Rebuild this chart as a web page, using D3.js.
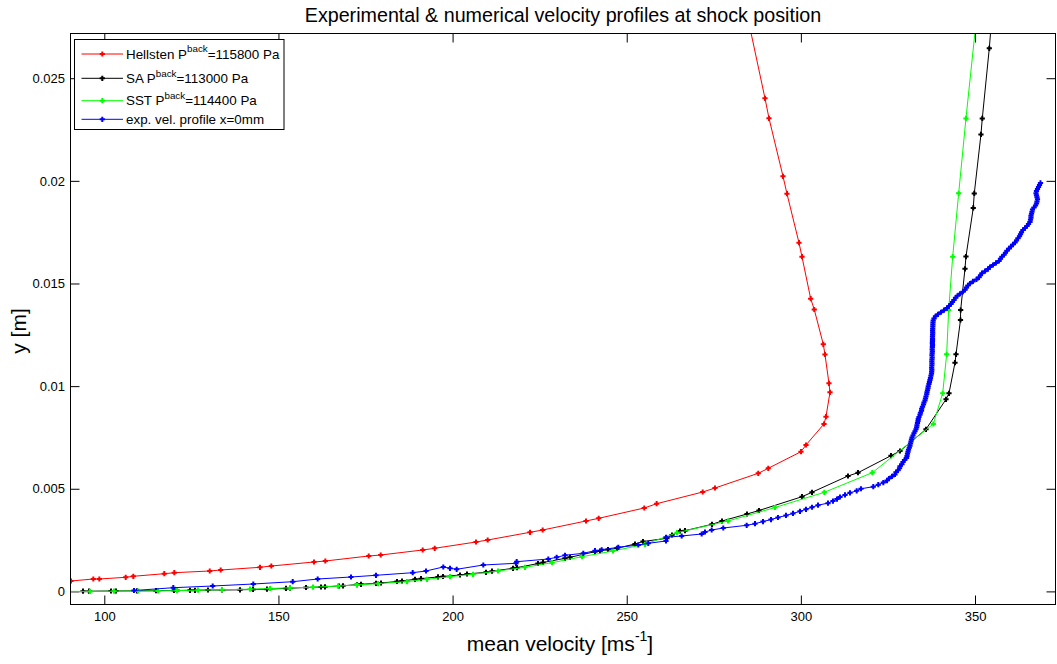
<!DOCTYPE html>
<html>
<head>
<meta charset="utf-8">
<script src="https://cdn.jsdelivr.net/npm/d3@7"></script>
<style>
  body { margin: 0; background: #ffffff; }
  svg { display: block; font-family: "Liberation Sans", Arial, Helvetica, sans-serif; }
</style>
</head>
<body>
<svg id="chart" width="1057" height="664"></svg>
<script>
// ---- Hellsten k-omega model, P_back = 115800 Pa ----
const hellstenVel = [90.44, 96.85, 98.57, 106.15, 108.33, 117.23, 120.10, 130.27, 133.42, 144.71,
  147.95, 160.21, 163.46, 175.92, 179.36, 191.42, 194.87, 206.72, 210.08, 222.23,
  225.87, 238.30, 241.95, 255.04, 258.60, 271.81, 275.34, 287.77, 290.64, 300.03,
  301.47, 306.64, 307.21, 308.36, 308.07, 306.92, 306.44, 303.85, 302.82, 300.32,
  299.46, 296.01, 294.87, 290.85, 289.70, 285.39, 284.24];
const hellstenY = [0.000507, 0.000604, 0.000604, 0.000687, 0.000736, 0.000862, 0.000911, 0.000994, 0.001042, 0.001174,
  0.001237, 0.001432, 0.001481, 0.001724, 0.001773, 0.002017, 0.0021, 0.002406, 0.002504, 0.002879,
  0.002991, 0.003429, 0.003561, 0.004063, 0.004272, 0.004842, 0.005037, 0.005753, 0.005997, 0.006805,
  0.007132, 0.008155, 0.00851, 0.009699, 0.010137, 0.01154, 0.012037, 0.013732, 0.014258, 0.016304,
  0.016986, 0.019373, 0.020221, 0.023046, 0.024021, 0.027445, 0.028419];

// ---- Spalart-Allmaras, P_back = 113000 Pa ----
const saVel = [93.89, 95.61, 101.93, 103.36, 109.39, 114.85, 120.02, 120.88, 124.61, 126.05,
  129.78, 133.80, 138.97, 142.70, 146.72, 152.17, 153.32, 157.91, 162.22, 163.37,
  167.39, 168.54, 172.56, 173.71, 178.01, 179.45, 184.04, 185.48, 189.21, 190.94,
  195.82, 197.25, 202.13, 204.14, 209.59, 211.32, 217.35, 218.49, 224.52, 225.96,
  232.27, 233.71, 240.89, 242.32, 244.62, 247.21, 252.37, 254.67, 261.56, 262.99,
  265.29, 266.73, 274.48, 277.35, 284.53, 287.97, 300.32, 303.19, 313.53, 316.40,
  325.87, 328.46, 335.92, 341.68, 342.53, 344.25, 344.54, 345.83, 345.88, 347.12,
  347.40, 349.50, 349.79, 351.71, 352.09, 354.10, 354.87];
const saY = [0.00001, 0.00001, 0.00002, 0.00002, 0.00003, 0.000034, 0.000044, 0.000044, 0.000054, 0.000054,
  0.000068, 0.000068, 0.000078, 0.000097, 0.000107, 0.000146, 0.000156, 0.00019, 0.000214, 0.000224,
  0.000263, 0.000273, 0.000331, 0.000346, 0.000395, 0.000409, 0.000482, 0.000507, 0.000589, 0.000619,
  0.000706, 0.000726, 0.000799, 0.000848, 0.00093, 0.000984, 0.001125, 0.001155, 0.001359, 0.001408,
  0.001612, 0.001661, 0.001934, 0.001968, 0.002041, 0.0021, 0.002309, 0.002431, 0.002587, 0.002747,
  0.002942, 0.002957, 0.003269, 0.003429, 0.00377, 0.003941, 0.004613, 0.004828, 0.005622, 0.005782,
  0.00661, 0.006839, 0.007897, 0.009358, 0.00965, 0.011141, 0.01155, 0.013221, 0.013708, 0.015715,
  0.016309, 0.018682, 0.019388, 0.022262, 0.023042, 0.026457, 0.028078];

// ---- k-omega SST, P_back = 114400 Pa ----
const sstVel = [89.01, 95.90, 102.79, 109.68, 115.42, 120.88, 126.91, 133.80, 141.84, 147.58,
  153.32, 159.92, 167.10, 172.56, 178.59, 186.91, 192.65, 199.26, 205.86, 213.04,
  220.79, 228.54, 237.15, 246.05, 255.24, 264.43, 279.07, 292.57, 306.73, 320.50,
  338.02, 340.72, 341.86, 342.44, 343.59, 345.31, 347.40, 350.28];
const sstY = [0, 0, 0.00001, 0.00002, 0.000024, 0.000039, 0.000058, 0.000083, 0.000107, 0.000141,
  0.000175, 0.000205, 0.000258, 0.000312, 0.00038, 0.000477, 0.000589, 0.000716, 0.000833, 0.000994,
  0.001174, 0.001398, 0.00169, 0.001968, 0.002294, 0.00286, 0.003429, 0.004087, 0.004828, 0.005782,
  0.008155, 0.00965, 0.01155, 0.013708, 0.016304, 0.019393, 0.023042, 0.02771];

// ---- measured velocity profile at x = 0 mm ----
const expVel = [108.53, 119.81, 131.13, 142.78, 154.10, 161.27, 170.83, 178.01, 188.55, 192.37,
  197.33, 199.26, 201.18, 208.82, 218.21, 218.41, 227.48, 229.89, 232.27, 237.53,
  240.89, 242.81, 247.58, 253.32, 256.19, 261.27, 261.27, 265.78, 271.52, 272.47,
  274.39, 277.72, 284.44,
  286.83, 289.13, 291.42, 293.43, 295.73, 297.74, 299.75, 301.47, 303.20, 304.92,
  307.79, 309.22, 310.37,
  311.23, 312.67, 314.10, 316.03, 317.26, 320.79, 322.23, 323.67, 324.73, 325.30,
  326.16, 327.02, 327.31, 327.89, 328.32, 328.46, 329.03, 329.32, 329.75, 330.33,
  330.47, 330.61, 330.76, 330.90, 331.13, 331.33, 331.48, 331.62, 331.76, 331.91,
  332.19, 332.48, 332.77, 333.05, 333.25, 333.34, 333.48, 333.63, 333.71, 333.91,
  334.20, 334.34, 334.63, 334.69, 334.92, 335.20, 335.35, 335.63, 335.78, 335.92,
  336.12, 336.21, 336.35, 336.50, 336.58, 336.78, 336.92, 337.07, 337.21, 337.35,
  337.50, 337.55, 337.60, 337.55, 337.60, 337.64, 337.60, 337.64, 337.70, 337.64,
  337.70, 337.75, 337.70, 337.75, 337.79, 337.75, 337.79, 337.80, 337.79, 337.82,
  337.85, 337.82, 337.85, 337.88, 337.90, 337.93, 338.00, 338.22, 338.65, 339.37,
  340.23, 341.09, 341.95, 342.53, 343.10, 343.53, 343.96, 344.39, 344.97, 345.68,
  346.54, 347.12, 347.55, 347.98, 348.55, 349.41, 350.42, 351.14, 351.57, 352.00,
  352.86, 353.72, 354.30, 355.16, 356.02, 356.88, 357.31, 357.74, 358.32, 358.75,
  359.18, 359.75, 360.33, 360.90, 361.48, 361.91, 362.34, 362.77, 363.06, 363.35,
  363.78, 364.35, 364.93, 365.36, 365.79, 365.93, 366.07, 366.07, 366.22, 366.36,
  366.51, 366.94, 367.37, 367.65, 367.80, 367.94, 367.80, 367.65, 367.51, 367.65,
  367.94, 368.23, 368.52, 368.80];
const expY = [0.000044, 0.00018, 0.000263, 0.00036, 0.000473, 0.000604, 0.000701, 0.000784, 0.000911, 0.000994,
  0.001189, 0.001125, 0.001077, 0.001286, 0.001369, 0.001447, 0.001578, 0.001661, 0.001759, 0.001856,
  0.001983, 0.00203, 0.002148, 0.00226, 0.002343, 0.002455, 0.002635, 0.0027, 0.002796, 0.002894,
  0.002991, 0.003088, 0.00322,
  0.0033, 0.0034, 0.0035, 0.0036, 0.0037, 0.0038, 0.0039, 0.0040, 0.0041, 0.0042,
  0.0043, 0.0044, 0.0045,
  0.0046, 0.0047, 0.0048, 0.0049, 0.0050, 0.0051, 0.0052, 0.0053, 0.0054, 0.0055,
  0.0056, 0.0057, 0.0058, 0.0059, 0.0060, 0.0061, 0.0062, 0.0063, 0.0064, 0.0065,
  0.0066, 0.0067, 0.0068, 0.0069, 0.0070, 0.0071, 0.0072, 0.0073, 0.0074, 0.0075,
  0.0076, 0.0077, 0.0078, 0.0079, 0.0080, 0.0081, 0.0082, 0.0083, 0.0084, 0.0085,
  0.0086, 0.0087, 0.0088, 0.0089, 0.0090, 0.0091, 0.0092, 0.0093, 0.0094, 0.0095,
  0.0096, 0.0097, 0.0098, 0.0099, 0.0100, 0.0101, 0.0102, 0.0103, 0.0104, 0.0105,
  0.0106, 0.0107, 0.0108, 0.0109, 0.0110, 0.0111, 0.0112, 0.0113, 0.0114, 0.0115,
  0.0116, 0.0117, 0.0118, 0.0119, 0.0120, 0.0121, 0.0122, 0.0123, 0.0124, 0.0125,
  0.0126, 0.0127, 0.0128, 0.0129, 0.0130, 0.0131, 0.0132, 0.0133, 0.0134, 0.0135,
  0.0136, 0.0137, 0.0138, 0.0139, 0.0140, 0.0141, 0.0142, 0.0143, 0.0144, 0.0145,
  0.0146, 0.0147, 0.0148, 0.0149, 0.0150, 0.0151, 0.0152, 0.0153, 0.0154, 0.0155,
  0.0156, 0.0157, 0.0158, 0.0159, 0.0160, 0.0161, 0.0162, 0.0163, 0.0164, 0.0165,
  0.0166, 0.0167, 0.0168, 0.0169, 0.0170, 0.0171, 0.0172, 0.0173, 0.0174, 0.0175,
  0.0176, 0.0177, 0.0178, 0.0179, 0.0180, 0.0181, 0.0182, 0.0183, 0.0184, 0.0185,
  0.0186, 0.0187, 0.0188, 0.0189, 0.0190, 0.0191, 0.0192, 0.0193, 0.0194, 0.0195,
  0.0196, 0.0197, 0.0198, 0.0199];

// ---- axes ----
const xTicks = [100, 150, 200, 250, 300, 350];
const yTicks = [0, 0.005, 0.01, 0.015, 0.02, 0.025];
const yTickLabels = ["0", "0.005", "0.01", "0.015", "0.02", "0.025"];

const seriesNames = ["Hellsten P", "SA P", "SST P", "exp. vel. profile x=0mm"];
const seriesSup = ["back", "back", "back", ""];
const seriesTail = ["=115800 Pa", "=113000 Pa", "=114400 Pa", ""];
const seriesColors = ["#ff0000", "#000000", "#00ff00", "#0000ff"];

const series = [
  { vel: hellstenVel, yy: hellstenY },
  { vel: saVel, yy: saY },
  { vel: sstVel, yy: sstY },
  { vel: expVel, yy: expY }
];

const plot = { left: 70.5, right: 1055.5, top: 33.5, bottom: 604.5 };

const x = d3.scaleLinear().domain([90.295, 373.11]).range([plot.left, plot.right]);
const y = d3.scaleLinear().domain([-0.000638, 0.027178]).range([plot.bottom, plot.top]);

const svg = d3.select("#chart");

svg.append("rect").attr("width", 1057).attr("height", 664).attr("fill", "#ffffff");

svg.append("defs").append("clipPath").attr("id", "plotClip")
  .append("rect")
  .attr("x", plot.left).attr("y", plot.top)
  .attr("width", plot.right - plot.left).attr("height", plot.bottom - plot.top);

// tick marks point inwards on all four sides
const tickLen = 9;
const gx = svg.append("g").attr("transform", `translate(0,${plot.bottom})`)
  .call(d3.axisBottom(x).tickValues(xTicks).tickSizeInner(-tickLen).tickSizeOuter(0)
    .tickPadding(7).tickFormat(d3.format("d")));
const gxTop = svg.append("g").attr("transform", `translate(0,${plot.top})`)
  .call(d3.axisTop(x).tickValues(xTicks).tickSizeInner(-tickLen).tickSizeOuter(0).tickFormat(() => ""));
const gy = svg.append("g").attr("transform", `translate(${plot.left},0)`)
  .call(d3.axisLeft(y).tickValues(yTicks).tickSizeInner(-tickLen).tickSizeOuter(0)
    .tickPadding(5.5).tickFormat((d, i) => yTickLabels[i]));
const gyRight = svg.append("g").attr("transform", `translate(${plot.right},0)`)
  .call(d3.axisRight(y).tickValues(yTicks).tickSizeInner(-tickLen).tickSizeOuter(0).tickFormat(() => ""));

[gx, gxTop, gy, gyRight].forEach(g => {
  g.select(".domain").remove();
  g.selectAll(".tick line").attr("stroke", "#000").attr("stroke-width", 1);
  g.selectAll(".tick text").attr("fill", "#000")
    .style("font-family", "'Liberation Sans', Arial, sans-serif").style("font-size", "13px");
});

// data lines and markers
const plotArea = svg.append("g").attr("clip-path", "url(#plotClip)");
const marker = "M-2.6,0H2.6M0,-2.6V2.6";

series.forEach((s, k) => {
  const pts = s.vel.map((v, i) => [v, s.yy[i]]);
  const line = d3.line().x(d => x(d[0])).y(d => y(d[1]));
  plotArea.append("path")
    .attr("d", line(pts))
    .attr("fill", "none")
    .attr("stroke", seriesColors[k])
    .attr("stroke-width", 1);
  plotArea.append("g").selectAll("path")
    .data(pts).join("path")
    .attr("d", marker)
    .attr("transform", d => `translate(${x(d[0])},${y(d[1])})`)
    .attr("fill", "none")
    .attr("stroke", seriesColors[k])
    .attr("stroke-width", 2);
});

// frame
svg.append("rect")
  .attr("x", plot.left).attr("y", plot.top)
  .attr("width", plot.right - plot.left).attr("height", plot.bottom - plot.top)
  .attr("fill", "none").attr("stroke", "#000").attr("stroke-width", 1);

// legend
const legend = svg.append("g");
legend.append("rect")
  .attr("x", 74.5).attr("y", 39.5).attr("width", 209.5).attr("height", 90)
  .attr("fill", "#ffffff").attr("stroke", "#000").attr("stroke-width", 1);
const rowY = [54, 78.3, 100.7, 119.3];
seriesNames.forEach((name, k) => {
  const yy = rowY[k];
  legend.append("line")
    .attr("x1", 81.5).attr("x2", 123).attr("y1", yy).attr("y2", yy)
    .attr("stroke", seriesColors[k]).attr("stroke-width", 1);
  legend.append("path")
    .attr("d", marker)
    .attr("transform", `translate(102.3,${yy})`)
    .attr("fill", "none").attr("stroke", seriesColors[k]).attr("stroke-width", 2);
  const t = legend.append("text")
    .attr("x", 126).attr("y", yy + 4.7)
    .attr("font-size", 13.4).attr("fill", "#000");
  t.append("tspan").text(name);
  if (seriesSup[k]) {
    t.append("tspan").attr("dy", -6.5).attr("font-size", 9.8).text(seriesSup[k]);
    t.append("tspan").attr("dy", 6.5).text(seriesTail[k]);
  }
});

// title and axis labels
svg.append("text")
  .attr("x", (plot.left + plot.right) / 2).attr("y", 22)
  .attr("text-anchor", "middle").attr("font-size", 19.7).attr("fill", "#000")
  .text("Experimental & numerical velocity profiles at shock position");

const xl = svg.append("text")
  .attr("x", (plot.left + plot.right) / 2 - 3).attr("y", 651)
  .attr("text-anchor", "middle").attr("font-size", 21).attr("fill", "#000");
xl.append("tspan").text("mean velocity [ms");
xl.append("tspan").attr("dy", -10).attr("font-size", 14).text("-1");
xl.append("tspan").attr("dy", 10).text("]");

svg.append("text")
  .attr("transform", `translate(26,${(plot.top + plot.bottom) / 2 + 12}) rotate(-90)`)
  .attr("text-anchor", "middle").attr("font-size", 21).attr("fill", "#000")
  .text("y [m]");
</script>
</body>
</html>
